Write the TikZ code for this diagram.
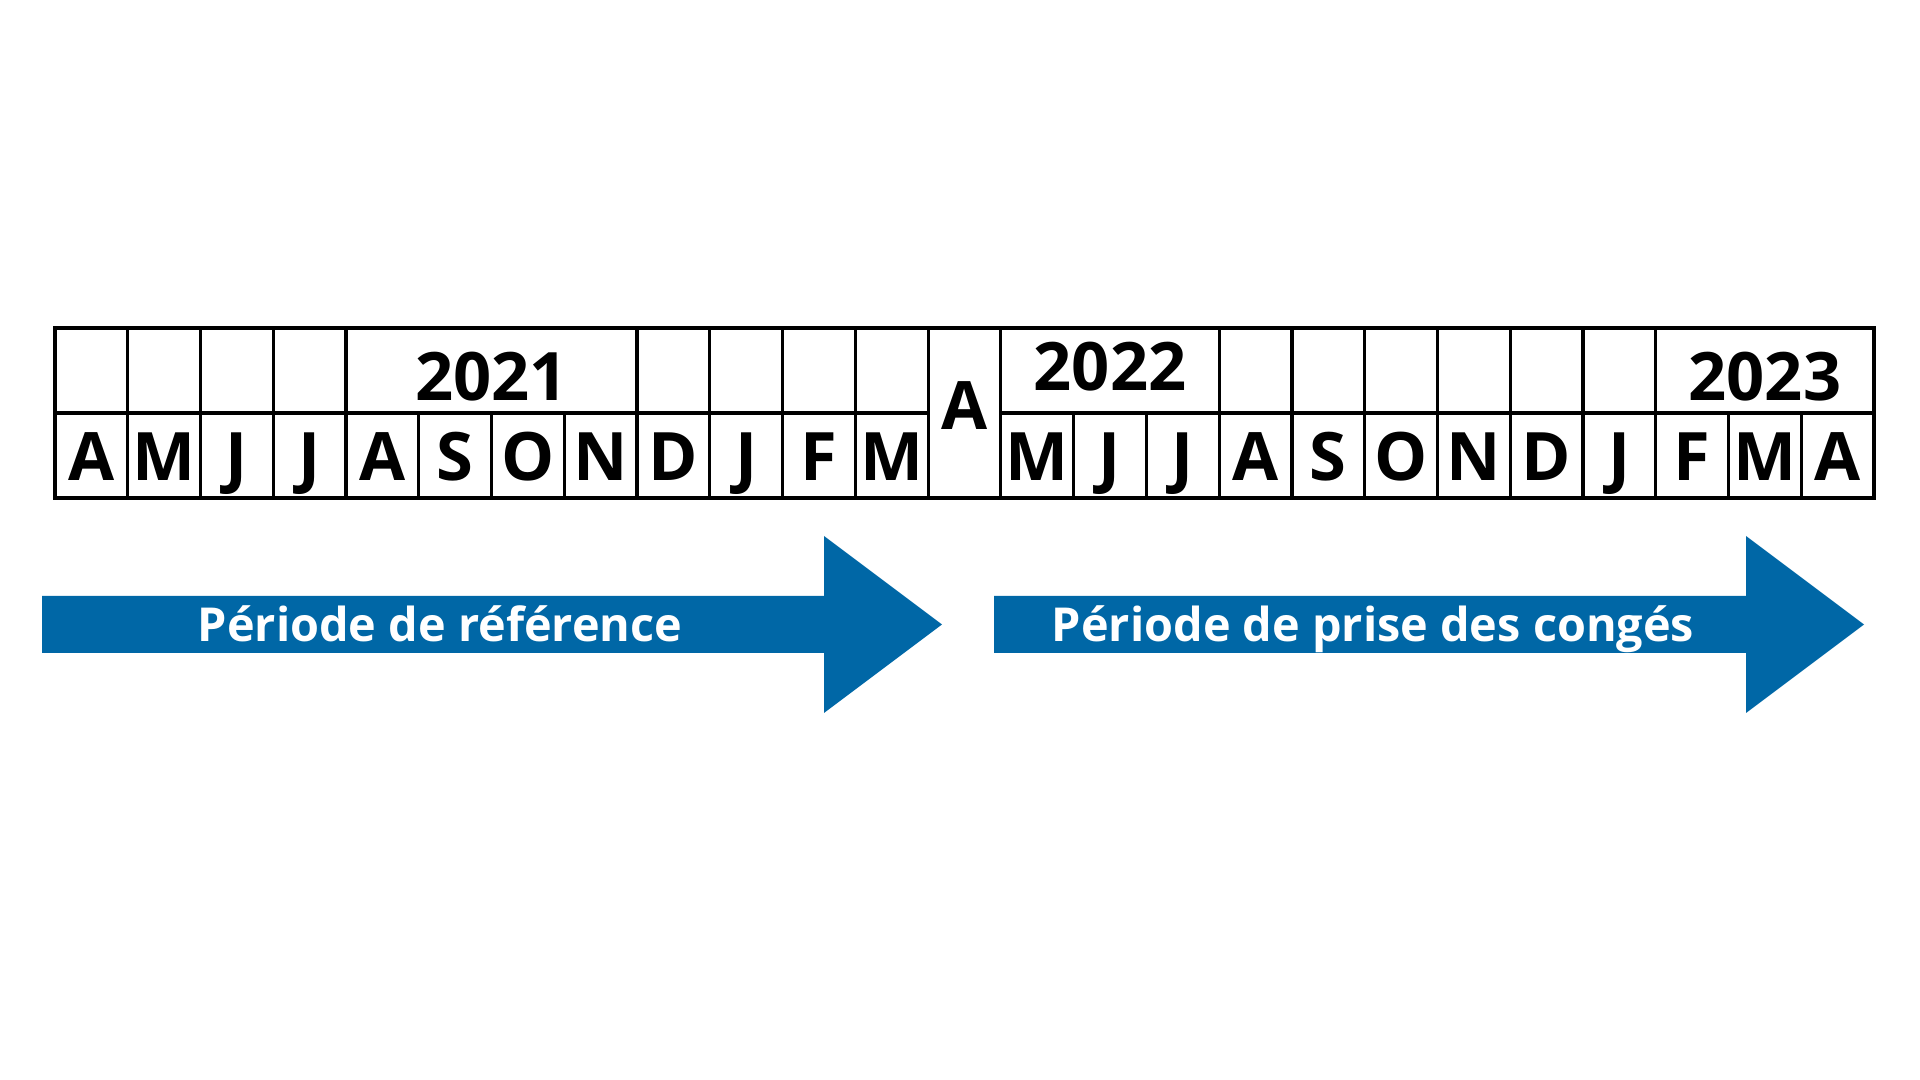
\documentclass[tikz,border=0pt]{standalone}
\usepackage{fontspec}
\setmainfont{Open Sans}
\usepackage{xcolor}
\definecolor{periodblue}{RGB}{0,103,166}

\begin{document}
\begin{tikzpicture}[x=0.01cm,y=-0.01cm,
	cell/.style={shape=rectangle,draw=black,line width=0.9pt,inner sep=0pt,minimum width=0.7276cm,minimum height=0.85cm,font=\fontsize{19}{19}\selectfont\bfseries,text height=0.49cm,text depth=0pt},
	yearcell/.style={cell,text height=0.59cm},
	period/.style={fill=periodblue},
	periodlabel/.style={text=white,font=\fontsize{13.3}{14}\selectfont\bfseries,anchor=base}]
	\useasboundingbox (0,0) rectangle (1920,1080);
	% top row
	\node[cell](T1) at (91.38,370.5) {};
	\node[cell](T2) at (164.14,370.5) {};
	\node[cell](T3) at (236.90,370.5) {};
	\node[cell](T4) at (309.66,370.5) {};
	\node[yearcell,minimum width=2.9104cm](Y21) at (491.56,370.5) {2021};
	\node[cell](T9) at (673.46,370.5) {};
	\node[cell](T10) at (746.22,370.5) {};
	\node[cell](T11) at (818.98,370.5) {};
	\node[cell](T12) at (891.74,370.5) {};
	\node[cell,minimum height=1.70cm,text height=0.34cm](M13) at (964.50,413) {A};
	\node[yearcell,minimum width=2.1828cm,text height=0.41cm](Y22) at (1110.02,370.5) {2022};
	\node[cell](T17) at (1255.54,370.5) {};
	\node[cell](T18) at (1328.30,370.5) {};
	\node[cell](T19) at (1401.06,370.5) {};
	\node[cell](T20) at (1473.82,370.5) {};
	\node[cell](T21) at (1546.58,370.5) {};
	\node[cell](T22) at (1619.34,370.5) {};
	\node[yearcell,minimum width=2.1828cm](Y23) at (1764.86,370.5) {2023};
	% months
	\node[cell](M1) at (91.38,455.5) {A};
	\node[cell](M2) at (164.14,455.5) {M};
	\node[cell](M3) at (236.90,455.5) {J};
	\node[cell](M4) at (309.66,455.5) {J};
	\node[cell](M5) at (382.42,455.5) {A};
	\node[cell](M6) at (455.18,455.5) {S};
	\node[cell](M7) at (527.94,455.5) {O};
	\node[cell](M8) at (600.70,455.5) {N};
	\node[cell](M9) at (673.46,455.5) {D};
	\node[cell](M10) at (746.22,455.5) {J};
	\node[cell](M11) at (818.98,455.5) {F};
	\node[cell](M12) at (891.74,455.5) {M};
	\node[cell](M14) at (1037.26,455.5) {M};
	\node[cell](M15) at (1110.02,455.5) {J};
	\node[cell](M16) at (1182.78,455.5) {J};
	\node[cell](M17) at (1255.54,455.5) {A};
	\node[cell](M18) at (1328.30,455.5) {S};
	\node[cell](M19) at (1401.06,455.5) {O};
	\node[cell](M20) at (1473.82,455.5) {N};
	\node[cell](M21) at (1546.58,455.5) {D};
	\node[cell](M22) at (1619.34,455.5) {J};
	\node[cell](M23) at (1692.10,455.5) {F};
	\node[cell](M24) at (1764.86,455.5) {M};
	\node[cell](M25) at (1837.62,455.5) {A};
	% periods
	\fill[period] (42,596) -- (824,596) -- (824,536) -- (942,624.5) -- (824,713) -- (824,653) -- (42,653) -- cycle;
	\fill[period] (994,596) -- (1746,596) -- (1746,536) -- (1864,624.5) -- (1746,713) -- (1746,653) -- (994,653) -- cycle;
	\node[periodlabel](R) at (440,642) {Période de référence};
	\node[periodlabel](C) at (1373,642) {Période de prise des congés};
\end{tikzpicture}
\end{document}
